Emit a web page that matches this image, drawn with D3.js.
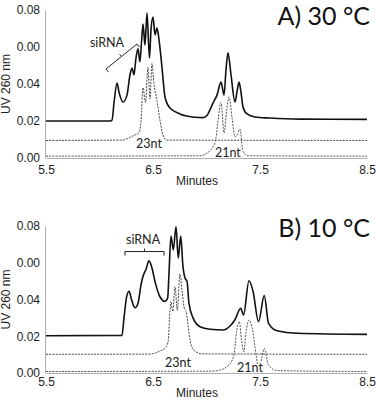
<!DOCTYPE html>
<html><head><meta charset="utf-8">
<script src="https://cdn.jsdelivr.net/npm/d3@7"></script>
<style>
html,body{margin:0;padding:0;background:#fff;}
svg{display:block;}
</style></head>
<body>
<svg id="chart" width="376" height="401"></svg>
<script>
// ---------- data ----------
const yTickValues = [0, 0.02, 0.04, 0.06, 0.08];
const yTickLabels = ["0.00", "0.02", "0.04", "0.00", "0.08"];
const xTickValues = [5.5, 6.5, 7.5, 8.5];
const xTickLabels = ["5.5", "6.5", "7.5", "8.5"];

// Panel A (30 °C)
const aSolidT = [5.5,6.098,6.117,6.136,6.164,6.182,6.22,6.257,6.285,6.304,6.322,6.341,6.36,6.378,6.393,6.407,6.425,6.444,6.467,6.481,6.5,6.519,6.537,6.556,6.584,6.612,6.659,6.752,6.893,6.967,7.005,7.023,7.061,7.098,7.136,7.164,7.182,7.201,7.229,7.266,7.285,7.304,7.322,7.341,7.379,7.453,7.593,7.874,8.5];
const aSolidV = [0.020,0.020,0.0205,0.030,0.0405,0.0357,0.0303,0.034,0.045,0.0486,0.045,0.054,0.059,0.052,0.063,0.0724,0.061,0.0784,0.054,0.069,0.0762,0.0665,0.0703,0.064,0.049,0.033,0.027,0.0238,0.022,0.0218,0.023,0.0249,0.0297,0.034,0.041,0.034,0.0476,0.0568,0.045,0.0303,0.0357,0.041,0.0357,0.0276,0.0238,0.0222,0.0216,0.021,0.0209];
const a23T = [5.5,6.21,6.332,6.369,6.388,6.407,6.43,6.453,6.472,6.49,6.509,6.537,6.565,6.593,6.631,8.5];
const a23V = [0.0095,0.0097,0.0125,0.0135,0.020,0.038,0.030,0.049,0.032,0.051,0.040,0.031,0.0205,0.0124,0.0097,0.0095];
const a21T = [5.5,6.939,7.005,7.061,7.089,7.107,7.136,7.164,7.187,7.21,7.238,7.266,7.29,7.313,7.341,7.388,8.5];
const a21V = [0.001,0.0012,0.0027,0.006,0.011,0.020,0.030,0.0135,0.025,0.033,0.022,0.0114,0.013,0.0157,0.0035,0.0012,0.001];

// Panel B (10 °C)
const bSolidT = [5.5,6.21,6.229,6.252,6.276,6.299,6.332,6.36,6.388,6.407,6.435,6.463,6.491,6.519,6.565,6.612,6.637,6.65,6.668,6.69,6.715,6.736,6.759,6.78,6.799,6.818,6.836,6.874,6.939,7.033,7.154,7.22,7.266,7.32,7.346,7.397,7.435,7.486,7.54,7.58,7.659,7.846,8.5];
const bSolidV = [0.0203,0.0205,0.030,0.041,0.0445,0.040,0.0355,0.038,0.048,0.0526,0.0565,0.061,0.057,0.0497,0.0415,0.039,0.0408,0.055,0.0745,0.067,0.0796,0.0626,0.0745,0.058,0.0517,0.050,0.038,0.030,0.0252,0.0238,0.0234,0.0256,0.029,0.0352,0.0316,0.0502,0.0445,0.028,0.0421,0.027,0.023,0.0216,0.021];
const b23T = [5.5,6.472,6.519,6.565,6.612,6.64,6.659,6.668,6.684,6.706,6.727,6.752,6.771,6.79,6.813,6.836,6.864,6.902,6.958,8.5];
const b23V = [0.0102,0.0103,0.0108,0.012,0.0135,0.0165,0.034,0.039,0.0335,0.047,0.034,0.054,0.045,0.036,0.0326,0.022,0.014,0.0115,0.0104,0.0102];
const b21T = [5.5,7.033,7.126,7.189,7.236,7.262,7.28,7.307,7.327,7.35,7.369,7.397,7.435,7.463,7.491,7.519,7.54,7.578,7.659,8.5];
const b21V = [0.0008,0.001,0.0016,0.0034,0.0065,0.012,0.022,0.028,0.018,0.0116,0.022,0.0288,0.022,0.010,0.002,0.009,0.0134,0.0044,0.0013,0.0008];

const zip = (t, v) => t.map((d, i) => ({t: d, v: v[i]}));

const panels = [
  {title: "A) 30 °C", top: 10, bottom: 158,
   solid: zip(aSolidT, aSolidV), s23: zip(a23T, a23V), s21: zip(a21T, a21V),
   sirna: {t: 6.07, v: 0.0622},
   bracket: {type: "diag", t1: 6.061, v1: 0.0481, t2: 6.35, v2: 0.0616},
   lab23: {t: 6.463, v: 0.0081}, lab21: {t: 7.2, v: 0.0032},
   titleY: 25, tickDy: 16, minutesDy: 27},
  {title: "B) 10 °C", top: 226, bottom: 373,
   solid: zip(bSolidT, bSolidV), s23: zip(b23T, b23V), s21: zip(b21T, b21V),
   sirna: {t: 6.407, v: 0.0724},
   bracket: {type: "horiz", t1: 6.238, t2: 6.603, v1: 0.0661},
   lab23: {t: 6.734, v: 0.0059}, lab21: {t: 7.407, v: 0.0032},
   titleY: 237, tickDy: 13, minutesDy: 24}
];

const svg = d3.select("#chart");
const x = d3.scaleLinear().domain([5.5, 8.5]).range([46, 367]);

panels.forEach(p => {
  const y = d3.scaleLinear().domain([0, 0.08]).range([p.bottom, p.top]);
  const g = svg.append("g");

  // axes
  const yAxis = d3.axisLeft(y).tickValues(yTickValues)
    .tickFormat((d, i) => yTickLabels[i]).tickSize(0).tickPadding(5);
  const ya = g.append("g").attr("transform", `translate(${x(5.5) - 1},0)`).call(yAxis);
  ya.select(".domain").attr("stroke", "#b0b0b0").attr("stroke-width", 1);
  ya.selectAll("text").attr("font-family", "'Liberation Sans', Arial, sans-serif")
    .attr("font-size", 12).attr("fill", "#222");

  const xAxis = d3.axisBottom(x).tickValues(xTickValues)
    .tickFormat((d, i) => xTickLabels[i]).tickSize(0).tickPadding(0);
  const xa = g.append("g").attr("transform", `translate(0,${p.bottom})`).call(xAxis);
  xa.select(".domain").attr("stroke", "#b0b0b0").attr("stroke-width", 1);
  xa.selectAll("text").attr("font-family", "'Liberation Sans', Arial, sans-serif")
    .attr("font-size", 12).attr("fill", "#222").attr("dy", null)
    .attr("y", p.tickDy).attr("dominant-baseline", "alphabetic");

  g.append("text").attr("x", 197).attr("y", p.bottom + p.minutesDy)
    .attr("text-anchor", "middle").attr("font-family", "'Liberation Sans', Arial, sans-serif")
    .attr("font-size", 12).attr("fill", "#222").text("Minutes");

  g.append("text")
    .attr("transform", `translate(10,${(p.top + p.bottom) / 2}) rotate(-90)`)
    .attr("text-anchor", "middle").attr("font-family", "'Liberation Sans', Arial, sans-serif")
    .attr("font-size", 12).attr("fill", "#222").text("UV 260 nm");

  const line = d3.line().x(d => x(d.t)).y(d => y(d.v)).curve(d3.curveMonotoneX);

  g.append("path").datum(p.s21).attr("d", line).attr("fill", "none")
    .attr("stroke", "#555").attr("stroke-width", 1).attr("stroke-dasharray", "2,1.2");
  g.append("path").datum(p.s23).attr("d", line).attr("fill", "none")
    .attr("stroke", "#444").attr("stroke-width", 1).attr("stroke-dasharray", "2,1.2");
  g.append("path").datum(p.solid).attr("d", line).attr("fill", "none")
    .attr("stroke", "#111").attr("stroke-width", 1.6);

  const labFont = "Lato, 'Open Sans', sans-serif";
  // title
  g.append("text").attr("x", 370).attr("y", p.titleY).attr("text-anchor", "end")
    .attr("font-family", labFont).attr("font-size", 25).attr("fill", "#111").text(p.title);

  // siRNA label
  g.append("text").attr("x", x(p.sirna.t)).attr("y", y(p.sirna.v))
    .attr("text-anchor", "middle").attr("dominant-baseline", "central")
    .attr("font-family", labFont).attr("font-size", 12.5).attr("fill", "#222").text("siRNA");

  // bracket
  const br = p.bracket;
  let bp;
  if (br.type === "diag") {
    const x1 = x(br.t1), y1 = y(br.v1), x2 = x(br.t2), y2 = y(br.v2);
    const L = Math.hypot(x2 - x1, y2 - y1);
    const ux = (x2 - x1) / L, uy = (y2 - y1) / L;
    const nx = -uy, ny = ux; // perpendicular (down-right)
    const mx = (x1 + x2) / 2, my = (y1 + y2) / 2;
    const k = 4;
    bp = `M${x1 + nx * k},${y1 + ny * k}L${x1},${y1}L${x2},${y2}L${x2 + nx * k},${y2 + ny * k}` +
         `M${mx},${my}L${mx - nx * 3},${my - ny * 3}`;
  } else {
    const x1 = x(br.t1), x2 = x(br.t2), yy = y(br.v1), mx = (x1 + x2) / 2;
    bp = `M${x1},${yy + 4}L${x1},${yy}L${x2},${yy}L${x2},${yy + 4}M${mx},${yy}L${mx},${yy - 3}`;
  }
  g.append("path").attr("d", bp).attr("fill", "none").attr("stroke", "#222").attr("stroke-width", 1);

  // 23nt / 21nt labels
  [[p.lab23, "23nt"], [p.lab21, "21nt"]].forEach(([l, txt]) => {
    g.append("text").attr("x", x(l.t)).attr("y", y(l.v))
      .attr("text-anchor", "middle").attr("dominant-baseline", "central")
      .attr("font-family", labFont).attr("font-size", 12.5).attr("fill", "#222")
      .attr("paint-order", "stroke").attr("stroke", "#fff").attr("stroke-width", 2)
      .text(txt);
  });
});
</script>
</body></html>
